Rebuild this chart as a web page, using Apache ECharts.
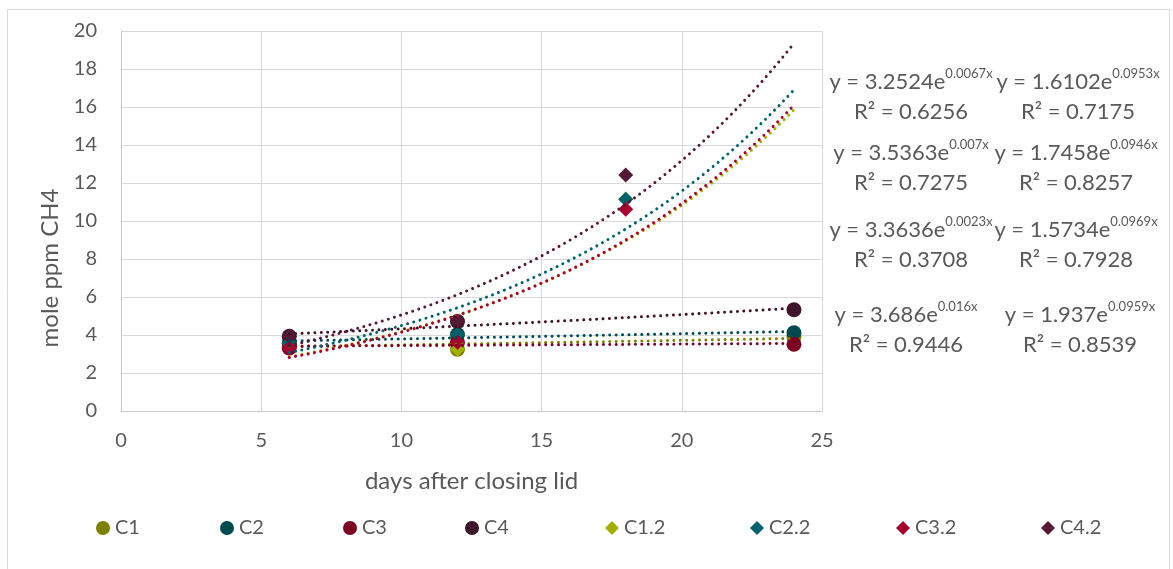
<!DOCTYPE html>
<html>
<head>
<meta charset="utf-8">
<title>Methane concentration after closing lid</title>
<script src="https://cdn.jsdelivr.net/npm/echarts@6/dist/echarts.min.js"></script>
<style>
  html, body { margin: 0; padding: 0; background: #ffffff; }
  #chart { width: 1173px; height: 569px; }
</style>
</head>
<body>
<div id="chart"></div>
<script>
// Measurement days
const daysC = [6, 12, 24];       // chambers C1..C4
const daysC2 = [6, 12, 18];      // chambers C1.2..C4.2

// CH4 concentrations (mole ppm)
const c1 = [3.56, 3.25, 3.91];
const c2 = [3.58, 4.02, 4.12];
const c3 = [3.32, 3.62, 3.51];
const c4 = [3.93, 4.71, 5.33];
const c1b = [3.56, 3.25, 11.16];
const c2b = [3.58, 4.02, 11.14];
const c3b = [3.32, 3.62, 10.62];
const c4b = [3.93, 4.71, 12.42];

const seriesNames = ['C1', 'C2', 'C3', 'C4', 'C1.2', 'C2.2', 'C3.2', 'C4.2'];
const seriesValues = [c1, c2, c3, c4, c1b, c2b, c3b, c4b];
const seriesDays = [daysC, daysC, daysC, daysC, daysC2, daysC2, daysC2, daysC2];
const seriesColors = ['#7B8000', '#004B50', '#7C0024', '#3E1429',
                      '#A4AE00', '#00616A', '#A6002E', '#541937'];
const seriesSymbols = ['circle', 'circle', 'circle', 'circle',
                       'diamond', 'diamond', 'diamond', 'diamond'];

// Exponential trendlines y = a * e^(b x) with their R²
const trendA = [3.2524, 3.5363, 3.3636, 3.686, 1.6102, 1.7458, 1.5734, 1.937];
const trendB = [0.0067, 0.007, 0.0023, 0.016, 0.0953, 0.0946, 0.0969, 0.0959];
const trendR2 = ['0.6256', '0.7275', '0.3708', '0.9446', '0.7175', '0.8257', '0.7928', '0.8539'];
const trendFrom = 6, trendTo = 24;

// Axis ticks
const xTicks = { min: 0, max: 25, interval: 5 };
const yTicks = { min: 0, max: 20, interval: 2 };

// Layout of the equation labels and legend entries
const eqPos = [[911, 97], [911, 168], [911, 245], [906, 330],
               [1078, 97], [1076, 168], [1076, 245], [1080, 330]];
const legendIconX = [98, 222, 345, 467, 607, 752, 898, 1043];

const FONT = 'Lato, "Open Sans", sans-serif';
const TEXT = '#595959';

function trendCurve(a, b) {
  const pts = [];
  const steps = 90;
  for (let i = 0; i <= steps; i++) {
    const x = trendFrom + (trendTo - trendFrom) * i / steps;
    pts.push([x, a * Math.exp(b * x)]);
  }
  return pts;
}

const series = [];
seriesNames.forEach((name, i) => {
  series.push({
    name: name,
    type: 'scatter',
    symbol: seriesSymbols[i],
    symbolSize: 15,
    itemStyle: { color: seriesColors[i], opacity: 1 },
    z: 2 + i * 0.01,
    data: seriesDays[i].map((d, k) => [d, seriesValues[i][k]]),
    emphasis: { disabled: true }
  });
});
seriesNames.forEach((name, i) => {
  series.push({
    name: name + ' trend',
    type: 'line',
    showSymbol: false,
    symbol: 'none',
    silent: true,
    z: 3,
    lineStyle: { color: seriesColors[i], width: 3, type: [0.01, 6.4], cap: 'round' },
    data: trendCurve(trendA[i], trendB[i])
  });
});

const legends = seriesNames.map((name, i) => ({
  left: legendIconX[i] - 7,
  top: 513,
  itemWidth: 14,
  itemHeight: 14,
  itemGap: 0,
  selectedMode: false,
  textStyle: { color: TEXT, fontSize: 20, fontFamily: FONT },
  data: [{ name: name, icon: seriesSymbols[i], itemStyle: { color: seriesColors[i] } }]
}));

const eqLabels = seriesNames.map((name, i) => ({
  type: 'text',
  x: eqPos[i][0],
  y: eqPos[i][1],
  z: 10,
  style: {
    text: '{m|y = ' + trendA[i] + 'e}{s|' + trendB[i] + 'x}\n{m|R² = ' + trendR2[i] + '}',
    align: 'center',
    verticalAlign: 'middle',
    fill: TEXT,
    rich: {
      m: { fontSize: 22, fontFamily: FONT, lineHeight: 30, fill: TEXT },
      s: { fontSize: 13, fontFamily: FONT, lineHeight: 20, verticalAlign: 'top', fill: TEXT }
    }
  }
}));

const chart = echarts.init(document.getElementById('chart'), null, { renderer: 'canvas' });
chart.setOption({
  animation: false,
  backgroundColor: '#ffffff',
  grid: { left: 121, right: 351, top: 31, bottom: 158, containLabel: false },
  xAxis: {
    type: 'value',
    min: xTicks.min, max: xTicks.max, interval: xTicks.interval,
    name: 'days after closing lid',
    nameLocation: 'middle',
    nameGap: 58,
    nameTextStyle: { color: TEXT, fontSize: 24, fontFamily: FONT },
    axisLine: { show: true, lineStyle: { color: '#c8c8c8', width: 1 } },
    axisTick: { show: false },
    axisLabel: { color: TEXT, fontSize: 20, fontFamily: FONT, margin: 20 },
    splitLine: { show: true, lineStyle: { color: '#d9d9d9', width: 1 } }
  },
  yAxis: {
    type: 'value',
    min: yTicks.min, max: yTicks.max, interval: yTicks.interval,
    axisLine: { show: true, lineStyle: { color: '#c8c8c8', width: 1 } },
    axisTick: { show: false },
    axisLabel: { color: TEXT, fontSize: 20, fontFamily: FONT, margin: 24 },
    splitLine: { show: true, lineStyle: { color: '#d9d9d9', width: 1 } }
  },
  legend: legends,
  graphic: [
    {
      type: 'rect',
      shape: { x: 7.5, y: 9.5, width: 1162, height: 575 },
      style: { fill: 'none', stroke: '#d9d9d9', lineWidth: 1 },
      silent: true,
      z: -1
    },
    {
      type: 'text',
      x: 50,
      y: 268,
      rotation: Math.PI / 2,
      style: {
        text: 'mole ppm CH4',
        align: 'center',
        verticalAlign: 'middle',
        fill: TEXT,
        fontSize: 24,
        fontFamily: FONT
      }
    }
  ].concat(eqLabels),
  series: series
});
</script>
</body>
</html>
